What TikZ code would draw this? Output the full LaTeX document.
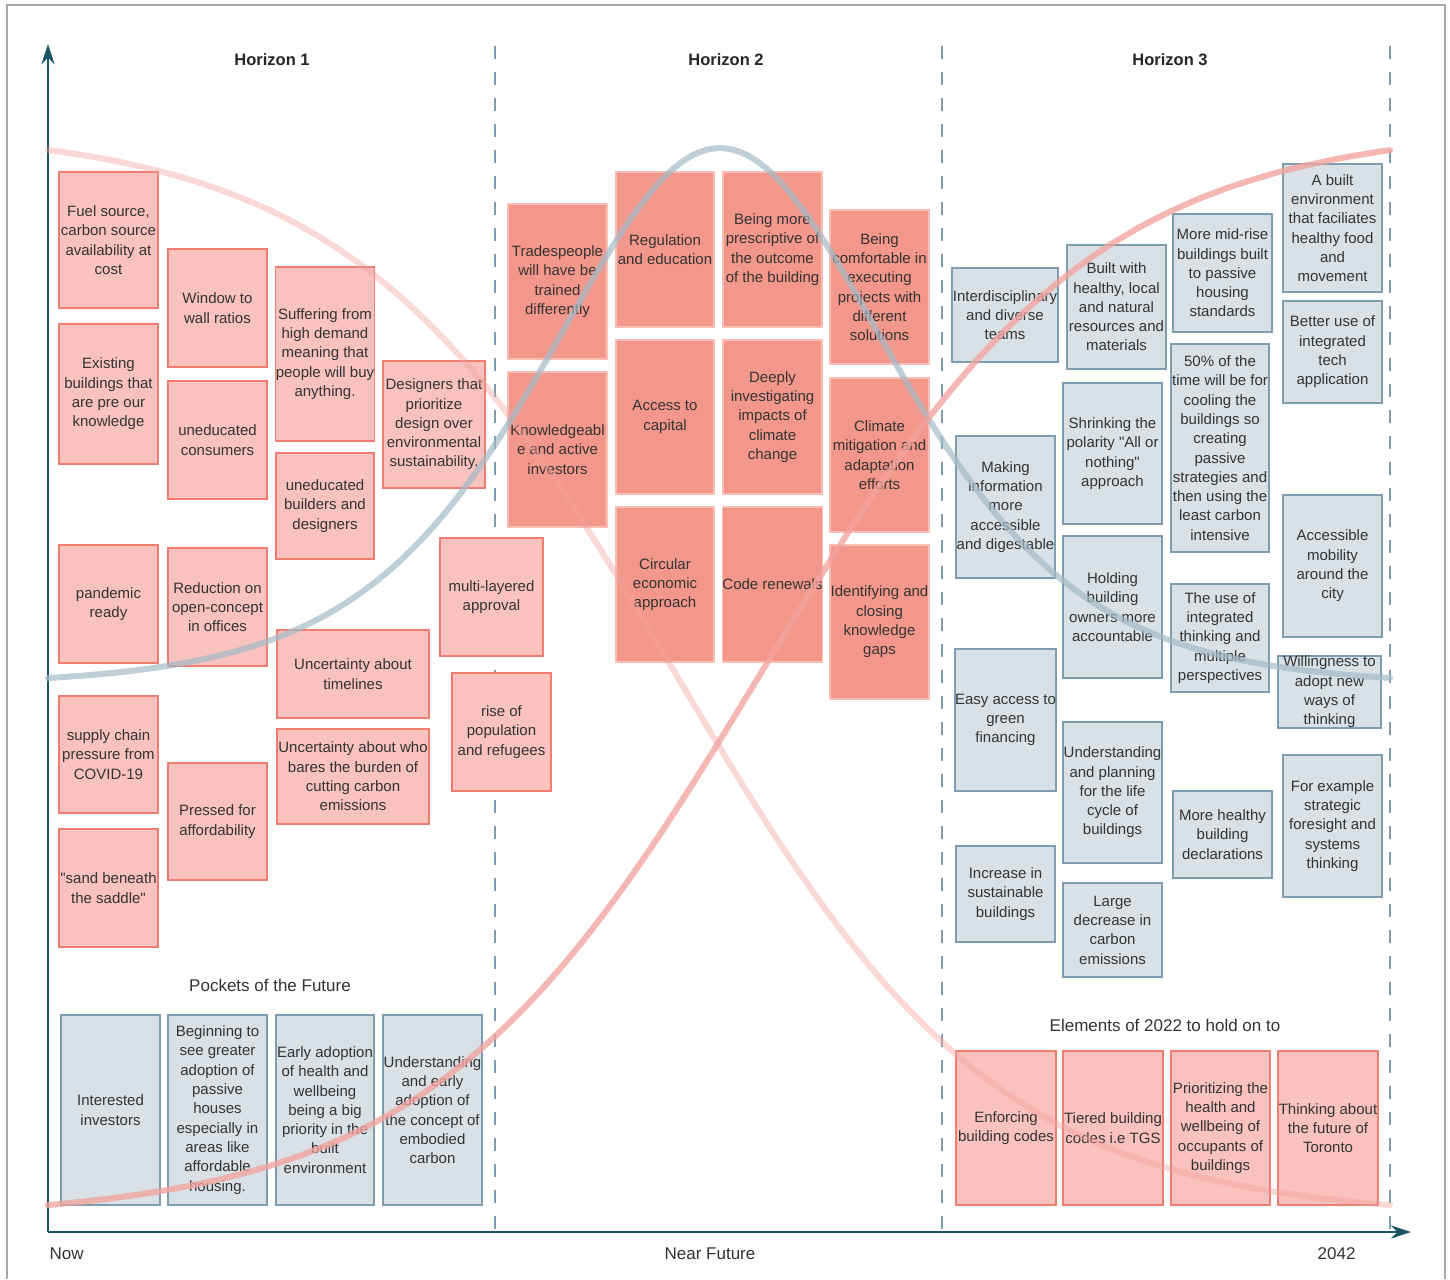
\documentclass[tikz,border=0pt]{standalone}
\usepackage{fontspec}
\setmainfont{Liberation Sans}
\usetikzlibrary{arrows.meta}

\definecolor{ink}{HTML}{333333}
\definecolor{axisteal}{HTML}{1B5467}
\definecolor{dashblue}{HTML}{7E9CAF}
\definecolor{framegray}{HTML}{A8A8A8}
\definecolor{pinkfill}{HTML}{F9C2BE}
\definecolor{pinkline}{HTML}{F07D72}
\definecolor{salmonfill}{HTML}{F4978B}
\definecolor{salmonline}{HTML}{F9BEB6}
\definecolor{greyfill}{HTML}{D9E1E6}
\definecolor{greyline}{HTML}{7F9DB0}
\definecolor{curvepink}{HTML}{F2A39E}
\definecolor{curveblue}{HTML}{A3BBC7}

\tikzset{
  note/.style={draw, line width=1.3pt, inner sep=0pt, align=center, text=ink,
    font=\fontsize{15}{19.3}\selectfont},
  nownote/.style={note, fill=pinkfill, draw=pinkline},
  midnote/.style={note, fill=salmonfill, draw=salmonline},
  farnote/.style={note, fill=greyfill, draw=greyline},
  horizonlabel/.style={text=black!85, font=\fontsize{16.5}{20}\selectfont\bfseries},
  caption/.style={text=ink, font=\fontsize{17}{20}\selectfont},
  axisline/.style={axisteal, line width=2.6pt, -{Stealth[length=20pt, width=13pt]}},
  divider/.style={dashblue, line width=1.4pt, dash pattern=on 13pt off 13pt},
  horizoncurve/.style={line width=6pt, line cap=round},
}

% straight double quote
\newcommand\dq{\textquotedbl}

% sticky note given by its corners: style, name, x1, y1, x2, y2, text
\newcommand\stickynote[7]{%
  \node[#1, minimum width={(#5-#3)*1pt}, minimum height={(#6-#4)*1pt}]
    (#2) at ({(#3+#5)/2},{(#4+#6)/2}) {#7};}

\begin{document}
\begin{tikzpicture}[x=1pt, y=-1pt]
\useasboundingbox (0,0) rectangle (1450,1279);
\fill[white] (0,0) rectangle (1450,1279);

% outer frame
\draw[framegray, line width=1.5pt] (7,1279) -- (7,5) -- (1445,5) -- (1445,1279);

% axes
\coordinate (origin) at (48,1232);
\coordinate (ytop) at (48,44);
\coordinate (xend) at (1411,1232);
\draw[axisline] (origin) -- (ytop);
\draw[axisline] (origin) -- (xend);

% horizon dividers
\foreach \dx/\nm in {495/one, 942/two, 1390/three} {
  \coordinate (top-\nm) at (\dx,46);
  \coordinate (bot-\nm) at (\dx,1232);
  \draw[divider] (top-\nm) -- (bot-\nm);
}

% headings and axis captions
\node[horizonlabel] (h1) at (272,60) {Horizon 1};
\node[horizonlabel] (h2) at (726,60) {Horizon 2};
\node[horizonlabel] (h3) at (1170,60) {Horizon 3};
\node[caption, anchor=west] (now) at (46,1254) {Now};
\node[caption] (near) at (710,1254) {Near Future};
\node[caption, anchor=east] (end) at (1359,1254) {2042};
\node[caption] (pockets) at (270,985) {Pockets of the Future};
\node[caption] (elements) at (1165,1025) {Elements of 2022 to hold on to};

% Horizon 1
\stickynote{nownote}{fuel}{59}{172}{158}{308}{Fuel source,\\carbon source\\availability at\\cost}
\stickynote{nownote}{existing}{59}{324}{158}{464}{Existing\\buildings that\\are pre our\\knowledge}
\stickynote{nownote}{pandemic}{59}{545}{158}{663}{pandemic\\ready}
\stickynote{nownote}{supply}{59}{696}{158}{813}{supply chain\\pressure from\\COVID-19}
\stickynote{nownote}{sand}{59}{829}{158}{947}{\dq sand beneath\\the saddle\dq}
\stickynote{nownote}{window}{168}{249}{267}{367}{Window to\\wall ratios}
\stickynote{nownote}{consumers}{168}{381}{267}{499}{uneducated\\consumers}
\stickynote{nownote}{openplan}{168}{548}{267}{666}{Reduction on\\open-concept\\in offices}
\stickynote{nownote}{afford}{168}{763}{267}{880}{Pressed for\\affordability}
\stickynote{nownote}{demand}{276}{267}{374}{441}{Suffering from\\high demand\\meaning that\\people will buy\\anything.}
\stickynote{nownote}{builders}{276}{453}{374}{559}{uneducated\\builders and\\designers}
\stickynote{nownote}{timelines}{277}{630}{429}{718}{Uncertainty about\\timelines}
\stickynote{nownote}{burden}{277}{729}{429}{824}{Uncertainty about who\\bares the burden of\\cutting carbon\\emissions}
\stickynote{nownote}{designers}{383}{361}{485}{488}{Designers that\\prioritize\\design over\\environmental\\sustainability.}
\stickynote{nownote}{approval}{440}{538}{543}{656}{multi-layered\\approval}
\stickynote{nownote}{population}{452}{673}{551}{791}{rise of\\population\\and refugees}

% Pockets of the Future
\stickynote{farnote}{investors}{61}{1015}{160}{1205}{Interested\\investors}
\stickynote{farnote}{passive}{168}{1015}{267}{1205}{Beginning to\\see greater\\adoption of\\passive\\houses\\especially in\\areas like\\affordable\\housing.}
\stickynote{farnote}{wellbeing}{276}{1015}{374}{1205}{Early adoption\\of health and\\wellbeing\\being a big\\priority in the\\built\\environment}
\stickynote{farnote}{embodied}{383}{1015}{482}{1205}{Understanding\\and early\\adoption of\\the concept of\\embodied\\carbon}

% Horizon 2
\stickynote{midnote}{trades}{508}{204}{607}{359}{Tradespeople\\will have be\\trained\\differently}
\stickynote{midnote}{knowinv}{508}{372}{607}{527}{Knowledgeabl\\e and active\\investors}
\stickynote{midnote}{regulation}{616}{172}{714}{327}{Regulation\\and education}
\stickynote{midnote}{capital}{616}{340}{714}{494}{Access to\\capital}
\stickynote{midnote}{circular}{616}{507}{714}{662}{Circular\\economic\\approach}
\stickynote{midnote}{prescriptive}{723}{172}{822}{327}{Being more\\prescriptive of\\the outcome\\of the building}
\stickynote{midnote}{impacts}{723}{340}{822}{494}{Deeply\\investigating\\impacts of\\climate\\change}
\stickynote{midnote}{coderenew}{723}{507}{822}{662}{Code renewals}
\stickynote{midnote}{comfortable}{830}{210}{929}{364}{Being\\comfortable in\\executing\\projects with\\different\\solutions}
\stickynote{midnote}{mitigation}{830}{378}{929}{532}{Climate\\mitigation and\\adaptation\\efforts}
\stickynote{midnote}{gaps}{830}{545}{929}{699}{Identifying and\\closing\\knowledge\\gaps}

% Horizon 3
\stickynote{farnote}{teams}{952}{268}{1058}{362}{Interdisciplinary\\and diverse\\teams}
\stickynote{farnote}{materials}{1067}{245}{1166}{369}{Built with\\healthy, local\\and natural\\resources and\\materials}
\stickynote{farnote}{midrise}{1173}{214}{1272}{332}{More mid-rise\\buildings built\\to passive\\housing\\standards}
\stickynote{farnote}{food}{1283}{164}{1382}{292}{A built\\environment\\that faciliates\\healthy food\\and\\movement}
\stickynote{farnote}{tech}{1283}{301}{1382}{403}{Better use of\\integrated\\tech\\application}
\stickynote{farnote}{information}{956}{436}{1055}{578}{Making\\information\\more\\accessible\\and digestable}
\stickynote{farnote}{polarity}{1063}{383}{1162}{524}{Shrinking the\\polarity \dq All or\\nothing\dq\\approach}
\stickynote{farnote}{cooling}{1171}{344}{1269}{552}{50\% of the\\time will be for\\cooling the\\buildings so\\creating\\passive\\strategies and\\then using the\\least carbon\\intensive}
\stickynote{farnote}{mobility}{1283}{495}{1382}{637}{Accessible\\mobility\\around the\\city}
\stickynote{farnote}{owners}{1063}{536}{1162}{678}{Holding\\building\\owners more\\accountable}
\stickynote{farnote}{integrated}{1171}{584}{1269}{692}{The use of\\integrated\\thinking and\\multiple\\perspectives}
\stickynote{farnote}{willing}{1278}{657}{1381}{727}{Willingness to\\adopt new\\ways of\\thinking}
\stickynote{farnote}{finance}{956}{649}{1055}{791}{Easy access to\\green\\financing}
\stickynote{farnote}{lifecycle}{1063}{722}{1162}{863}{Understanding\\and planning\\for the life\\cycle of\\buildings}
\stickynote{farnote}{foresight}{1283}{755}{1382}{897}{For example\\strategic\\foresight and\\systems\\thinking}
\stickynote{farnote}{declare}{1173}{791}{1272}{878}{More healthy\\building\\declarations}
\stickynote{farnote}{sustain}{956}{846}{1055}{942}{Increase in\\sustainable\\buildings}
\stickynote{farnote}{decrease}{1063}{883}{1162}{977}{Large\\decrease in\\carbon\\emissions}

% Elements of 2022 to hold on to
\stickynote{nownote}{enforce}{956}{1051}{1056}{1205}{Enforcing\\building codes}
\stickynote{nownote}{tiered}{1063}{1051}{1163}{1205}{Tiered building\\codes i.e TGS}
\stickynote{nownote}{occupants}{1171}{1051}{1270}{1205}{Prioritizing the\\health and\\wellbeing of\\occupants of\\buildings}
\stickynote{nownote}{toronto}{1278}{1051}{1378}{1205}{Thinking about\\the future of\\Toronto}

% the three horizon curves
\draw[horizoncurve, curvepink, opacity=0.42]
  plot[domain=48:1390, samples=140, smooth]
  (\x, {150 + 1055*(1/(1+exp(-(\x-675)/162)) - 0.02045)/0.96759});
\draw[horizoncurve, curveblue, opacity=0.7]
  plot[domain=48:1390, samples=160, smooth]
  (\x, {685 - 537*4/(exp((\x-720)/235)+exp(-(\x-720)/235))^2});
\draw[horizoncurve, curvepink, opacity=0.78]
  plot[domain=48:1390, samples=140, smooth]
  (\x, {1205 - 1055*(1/(1+exp(-(\x-761)/166)) - 0.01346)/0.96442});
\end{tikzpicture}
\end{document}
